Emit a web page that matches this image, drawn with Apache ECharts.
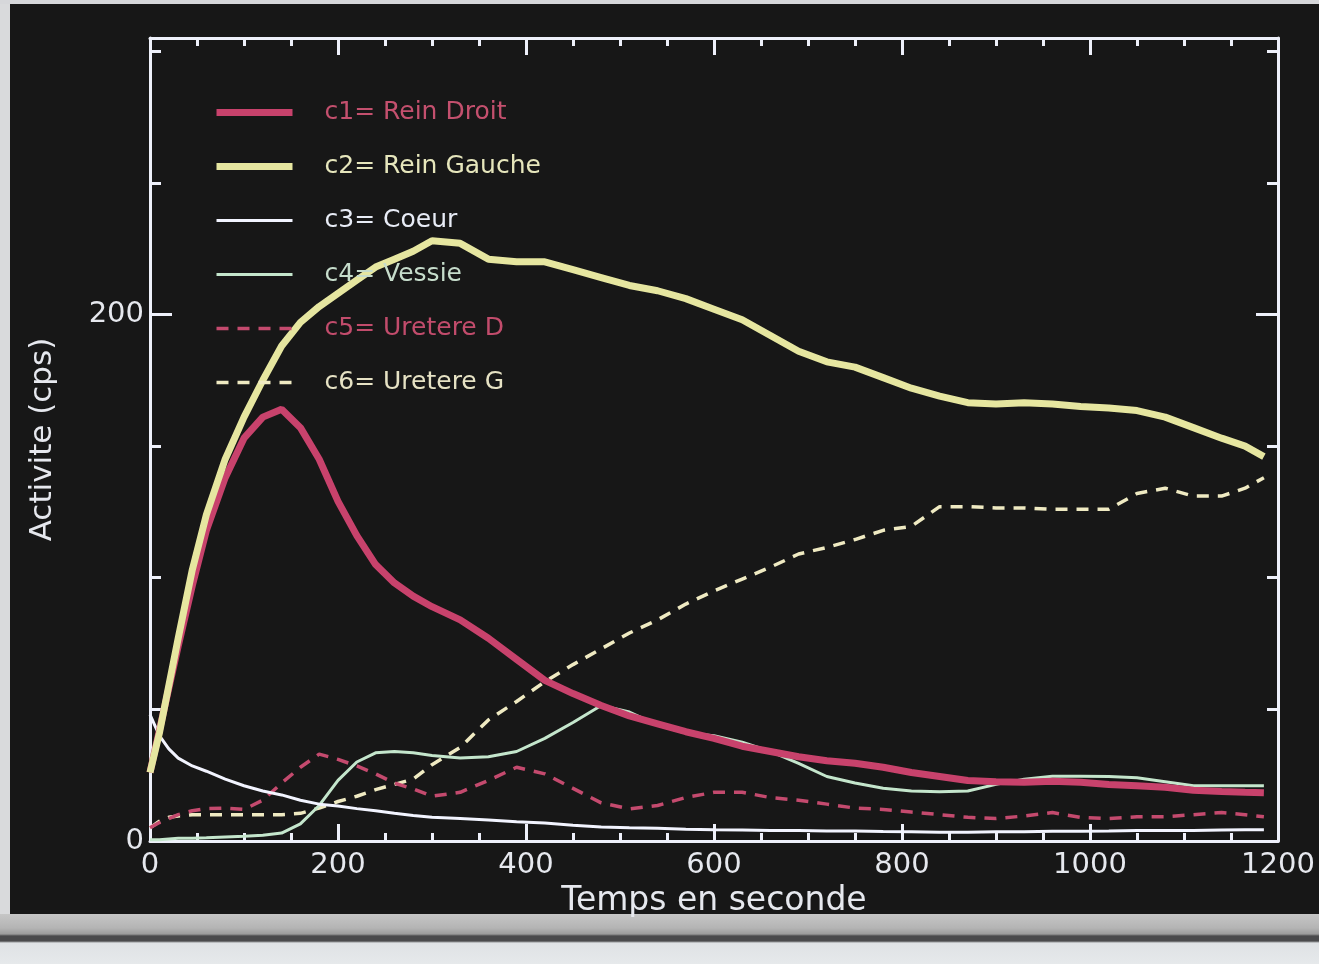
<!DOCTYPE html>
<html>
<head>
<meta charset="utf-8">
<title>Renogramme</title>
<script src="https://cdn.jsdelivr.net/npm/echarts@6/dist/echarts.min.js"></script>
<style>
  html, body { margin: 0; padding: 0; width: 1319px; height: 964px; overflow: hidden; background: #171717; }
  #chart { position: absolute; left: 0; top: 0; width: 1319px; height: 964px; }
  .edge { position: absolute; }
  #edgeLeft { left: 0; top: 0; width: 10px; height: 915px; background: #d9dadc; }
  #edgeTop { left: 0; top: 0; width: 1319px; height: 4px; background: #d6d7da; }
  #bottomBand { left: 0; top: 914px; width: 1319px; height: 50px;
    background: linear-gradient(#c6c6c6 0px, #b4b4b4 14px, #9c9c9c 20px, #4a4a4c 22px, #4a4a4c 27px, #dfe2e5 29px, #e6e9eb 50px); }
</style>
</head>
<body>
<div class="edge" id="edgeLeft"></div>
<div class="edge" id="edgeTop"></div>
<div class="edge" id="bottomBand"></div>
<div id="chart"></div>
<script>
// Sampling times (s)
const times = [0, 10, 20, 30, 45, 60, 80, 100, 120, 140, 160, 180, 200, 220, 240, 260, 280, 300,
  330, 360, 390, 420, 450, 480, 510, 540, 570, 600, 630, 660, 690, 720,
  750, 780, 810, 840, 870, 900, 930, 960, 990, 1020, 1050, 1080, 1110, 1140, 1165, 1185];

// Activity (cps) per region of interest
const reinDroit = [26, 42, 58, 74, 97, 118, 138, 153, 161, 164, 157, 145, 129, 116, 105, 98, 93, 89,
  84, 77, 69, 61, 56, 51.5, 47.5, 44.5, 41.5, 39, 36, 34, 32, 30.5,
  29.5, 28, 26, 24.5, 23, 22.5, 22.3, 22.7, 22.3, 21.5, 21, 20.4, 19.3, 18.8, 18.5, 18.3];

const reinGauche = [26, 41, 59, 77, 103, 124, 145, 161, 175, 188, 197, 203, 208, 213, 218, 221, 224, 228,
  227, 221, 220, 220, 217, 214, 211, 209, 206, 202, 198, 192, 186, 182,
  180, 176, 172, 169, 166.5, 166, 166.5, 166, 165, 164.5, 163.5, 161, 157, 153, 150, 146];

const coeur = [48, 40, 35, 31.5, 28.5, 26.5, 23.5, 21, 19, 17.5, 15.5, 14, 13.3, 12.3, 11.5, 10.5, 9.7, 9,
  8.5, 8, 7.3, 6.8, 6, 5.3, 5, 4.8, 4.5, 4.3, 4.2, 4, 4, 3.8,
  3.8, 3.6, 3.5, 3.3, 3.3, 3.5, 3.5, 3.7, 3.7, 3.8, 4, 4, 4, 4.2, 4.3, 4.3];

const vessie = [0.5, 0.5, 0.8, 1, 1, 1.2, 1.5, 1.8, 2.2, 3, 6.5, 13.5, 23, 30, 33.5, 34, 33.5, 32.5,
  31.5, 32, 34, 39, 45, 51.5, 49, 44, 41, 40, 37.5, 34, 29.5, 24.5,
  22, 20, 19, 18.7, 19, 21.5, 23.5, 24.6, 24.6, 24.5, 24, 22.5, 21, 21, 21, 21];

const uretereD = [5, 7, 8.5, 10, 11.5, 12.3, 12.5, 12, 15.5, 22, 28, 33, 31, 28.5, 25.5, 22, 19.8, 17,
  18.5, 23, 28, 25.5, 20, 14.5, 12.2, 13.5, 16.5, 18.5, 18.5, 16.5, 15.5, 14,
  12.5, 12, 11, 10, 9, 8.5, 9.5, 10.8, 9, 8.5, 9.2, 9.2, 10, 10.8, 10, 9.2];

const uretereG = [5, 7.5, 9, 9.5, 10, 10, 10, 10, 10, 10, 10.5, 12.5, 15, 17, 19.5, 21.5, 23.5, 29,
  35.5, 46, 53, 60.5, 67, 73, 79, 84, 90, 95, 99.5, 104, 109, 111.5,
  114.5, 118, 119.5, 127, 127, 126.5, 126.5, 126, 126, 126, 132, 134, 131, 131, 134, 138];

const seriesNames = ['c1= Rein Droit', 'c2= Rein Gauche', 'c3= Coeur', 'c4= Vessie', 'c5= Uretere D', 'c6= Uretere G'];
const yLabelValues = [0, 200];

const FONT = 'DejaVu Sans';
const AXIS_COLOR = '#eef0fa';
const TEXT_COLOR = '#e6e8ee';
const GRID_BOX = { left: 150, right: 41, top: 38, bottom: 123, containLabel: false };

function pairs(vals) { return times.map((t, i) => [t, vals[i]]); }

function lineSeries(name, vals, color, width, dashed) {
  return {
    name: name,
    type: 'line',
    data: pairs(vals),
    xAxisIndex: 0,
    yAxisIndex: 0,
    symbol: 'none',
    showSymbol: false,
    smooth: false,
    lineStyle: { color: color, width: width, type: dashed ? [12, 9] : 'solid', cap: 'butt' },
    itemStyle: { color: color },
    emphasis: { disabled: true },
    z: 3
  };
}

// Grid 0 carries the frame, the long ticks every 200 and the labels;
// grid 1 (same box) only carries the short ticks every 50.
// onZero is switched off everywhere so each axis stays on its own edge.
const hiddenLine = { show: false, onZero: false };
const frameLine = { show: true, onZero: false, lineStyle: { color: AXIS_COLOR, width: 3 } };

function xAx(grid, position, interval, tickLen, opts) {
  return Object.assign({
    type: 'value', gridIndex: grid, position: position, min: 0, max: 1200, interval: interval,
    axisLine: hiddenLine,
    axisTick: { show: true, inside: true, length: tickLen, lineStyle: { color: AXIS_COLOR, width: 3 } },
    axisLabel: { show: false },
    splitLine: { show: false }
  }, opts || {});
}
function yAx(grid, position, interval, tickLen, opts) {
  return Object.assign({
    type: 'value', gridIndex: grid, position: position, min: 0, max: 305, interval: interval,
    axisLine: hiddenLine,
    axisTick: { show: true, inside: true, length: tickLen, lineStyle: { color: AXIS_COLOR, width: 3 } },
    axisLabel: { show: false },
    splitLine: { show: false }
  }, opts || {});
}

const chart = echarts.init(document.getElementById('chart'), null, { renderer: 'canvas' });
chart.setOption({
  backgroundColor: 'transparent',
  animation: false,
  grid: [Object.assign({}, GRID_BOX), Object.assign({}, GRID_BOX)],
  legend: {
    orient: 'vertical',
    left: 208,
    top: 92,
    itemWidth: 76,
    itemHeight: 14,
    itemGap: 23,
    selectedMode: false,
    lineStyle: { width: 'inherit' },
    itemStyle: { opacity: 0 },
    textStyle: { fontFamily: FONT, fontSize: 25, lineHeight: 31, padding: [0, 0, 0, 27] },
    data: [
      { name: seriesNames[0], textStyle: { color: '#c4506e' } },
      { name: seriesNames[1], textStyle: { color: '#e6e6bc' } },
      { name: seriesNames[2], textStyle: { color: '#e8ecf6' } },
      { name: seriesNames[3], textStyle: { color: '#c6dccb' } },
      { name: seriesNames[4], textStyle: { color: '#c24c6c' } },
      { name: seriesNames[5], textStyle: { color: '#e6e2c4' } }
    ]
  },
  xAxis: [
    xAx(0, 'bottom', 200, 17, {
      axisLine: frameLine,
      axisLabel: { show: true, color: TEXT_COLOR, fontFamily: FONT, fontSize: 29, margin: 10,
        formatter: v => String(v) },
      name: 'Temps en seconde', nameLocation: 'middle', nameGap: 41,
      nameTextStyle: { color: TEXT_COLOR, fontFamily: FONT, fontSize: 33 }
    }),
    xAx(0, 'top', 200, 17, { axisLine: frameLine }),
    xAx(1, 'bottom', 50, 8),
    xAx(1, 'top', 50, 8)
  ],
  yAxis: [
    yAx(0, 'left', 200, 22, {
      axisLine: frameLine,
      axisLabel: {
        show: true, color: TEXT_COLOR, fontFamily: FONT, fontSize: 29, margin: 6,
        formatter: v => (yLabelValues.indexOf(v) >= 0 ? String(v) : '')
      },
      name: 'Activite (cps)', nameLocation: 'middle', nameGap: 92,
      nameTextStyle: { color: TEXT_COLOR, fontFamily: FONT, fontSize: 31 }
    }),
    yAx(0, 'right', 200, 22, { axisLine: frameLine }),
    yAx(1, 'left', 50, 11),
    yAx(1, 'right', 50, 11)
  ],
  series: [
    lineSeries(seriesNames[5], uretereG, '#efeac2', 3.5, true),
    lineSeries(seriesNames[4], uretereD, '#c44a6e', 3.5, true),
    lineSeries(seriesNames[3], vessie, '#c4e6cc', 3, false),
    lineSeries(seriesNames[2], coeur, '#f2f4ff', 3, false),
    lineSeries(seriesNames[0], reinDroit, '#c8426c', 7, false),
    lineSeries(seriesNames[1], reinGauche, '#e6e6a0', 7, false)
  ]
});
</script>
</body>
</html>
